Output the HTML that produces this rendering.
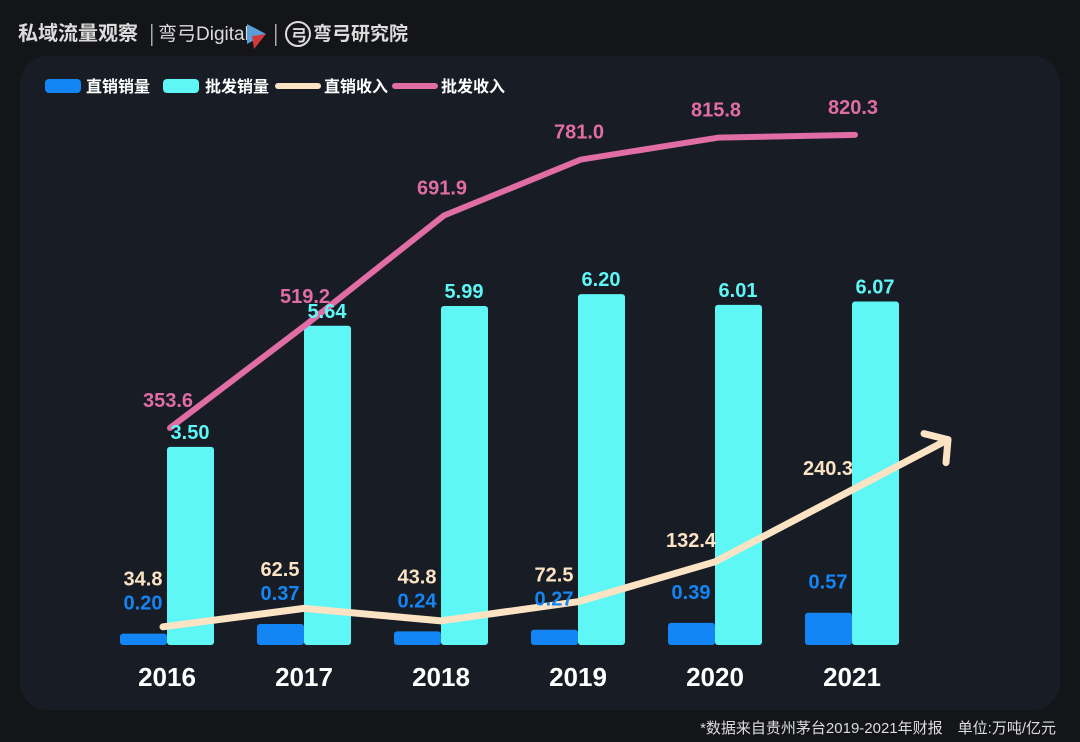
<!DOCTYPE html>
<html><head><meta charset="utf-8"><style>
html,body{margin:0;padding:0;background:#141519;}
body{width:1080px;height:742px;overflow:hidden;position:relative;font-family:"Liberation Sans","Noto Sans CJK SC",sans-serif;}
</style></head><body>
<svg id="chart" width="1080" height="742" xmlns="http://www.w3.org/2000/svg" style="position:absolute;left:0;top:0">
<rect x="0" y="0" width="1080" height="742" fill="#141519"/>
<rect x="20" y="56" width="1040" height="654" rx="28" fill="#181d25"/>
<g font-family="'Liberation Sans','Noto Sans CJK SC',sans-serif" fill="#dcdcdc">
<text x="18" y="40" font-size="20" font-weight="bold">私域流量观察</text>
<rect x="151" y="24" width="1.5" height="22" fill="#aaa"/>
<text x="158" y="40" font-size="19">弯弓Digital</text>
<path d="M247 24 L266 34 L247 44 Z" fill="#5aa0d8"/>
<path d="M252 36 L266 34 L254 49 Z" fill="#d03a3a"/>
<rect x="275" y="24" width="1.5" height="22" fill="#aaa"/>
<circle cx="298" cy="34" r="12" fill="none" stroke="#ddd" stroke-width="2"/>
<text x="291" y="41" font-size="16" font-weight="bold">弓</text>
<text x="313" y="40" font-size="19" font-weight="bold">弯弓研究院</text>
</g>
<g font-size="16" font-weight="bold" fill="#fff">
<rect x="45" y="79" width="36" height="14" rx="4" fill="#1485f5"/>
<text x="86" y="92">直销销量</text>
<rect x="163" y="79" width="36" height="14" rx="4" fill="#5ff6f6"/>
<text x="205" y="92">批发销量</text>
<rect x="275" y="83" width="46" height="6" rx="3" fill="#fbe3c4"/>
<text x="324" y="92">直销收入</text>
<rect x="392" y="83" width="46" height="6" rx="3" fill="#e06da4"/>
<text x="441" y="92">批发收入</text>
</g>
<g id="plot"></g>
<text x="1056" y="733" text-anchor="end" font-size="15" fill="#dddddd">*数据来自贵州茅台2019-2021年财报　单位:万吨/亿元</text>
</svg>
<script>
const years = ["2016","2017","2018","2019","2020","2021"];
const directVolume = [0.20,0.37,0.24,0.27,0.39,0.57];
const wholesaleVolume = [3.50,5.64,5.99,6.20,6.01,6.07];
const directRevenue = [34.8,62.5,43.8,72.5,132.4,240.3];
const wholesaleRevenue = [353.6,519.2,691.9,781.0,815.8,820.3];

const NS="http://www.w3.org/2000/svg";
const plot=document.getElementById('plot');
const base=645;
function xc(i){return 167+i*137;}
function yBar(v){return base-v*56.6;}
function yWR(v){return 650-v*0.628;}
function yDR(v){return 650-v*0.666;}
function mk(tag,attrs){const e=document.createElementNS(NS,tag);for(const k in attrs)e.setAttribute(k,attrs[k]);plot.appendChild(e);return e;}
function txt(x,y,s,fill,size,name){const t=mk('text',{x:x,y:y,'text-anchor':'middle','font-size':size,'font-weight':'bold',fill:fill});t.textContent=s;


return t;}

years.forEach((yr,i)=>{
  const c=xc(i);
  const b=mk('rect',{x:c-47,y:yBar(directVolume[i]),width:47,height:base-yBar(directVolume[i]),rx:3,fill:'#1485f5'});
  
  
  const w=mk('rect',{x:c,y:yBar(wholesaleVolume[i]),width:47,height:base-yBar(wholesaleVolume[i]),rx:3,fill:'#5ff6f6'});
  
  
  txt(c,686,yr,'#ffffff',26,'x-label-'+yr);
});

let pts=directRevenue.map((v,i)=>[xc(i)-(i==0?4:0),yDR(v)]);
const n=pts.length;
const p1=pts[n-2],p2=pts[n-1];
const t=(948-p1[0])/(p2[0]-p1[0]);
const tip=[948,p1[1]+(p2[1]-p1[1])*t];
const dl=pts.slice(0,n-1).concat([tip]);
const dline=mk('polyline',{points:dl.map(p=>p.join(',')).join(' '),fill:'none',stroke:'#fbe3c4','stroke-width':7,'stroke-linejoin':'round','stroke-linecap':'round'});


const ah=mk('polyline',{points:`${tip[0]-24},${tip[1]-6} ${tip[0]},${tip[1]} ${tip[0]-2},${tip[1]+23}`,fill:'none',stroke:'#fbe3c4','stroke-width':7,'stroke-linejoin':'round','stroke-linecap':'round'});



const wl=mk('polyline',{points:wholesaleRevenue.map((v,i)=>(xc(i)+3)+','+yWR(v)).join(' '),fill:'none',stroke:'#e06da4','stroke-width':6,'stroke-linejoin':'round','stroke-linecap':'round'});



years.forEach((yr,i)=>{
  const c=xc(i);
  txt(c+23,yBar(wholesaleVolume[i])-8,wholesaleVolume[i].toFixed(2),'#5ff6f6',20,'label-wholesale-volume-'+yr);
  const bly=yBar(directVolume[i])-24;
  txt(c-24,bly,directVolume[i].toFixed(2),'#1485f5',20,'label-direct-volume-'+yr);
  const dy=Math.min(bly-24,yDR(directRevenue[i])-15);
  txt(c-24,dy,directRevenue[i].toFixed(1),'#fbe3c4',20,'label-direct-revenue-'+yr);
  txt(c+1,yWR(wholesaleRevenue[i])-21,wholesaleRevenue[i].toFixed(1),'#e06da4',20,'label-wholesale-revenue-'+yr);
});
</script>
</body></html>
